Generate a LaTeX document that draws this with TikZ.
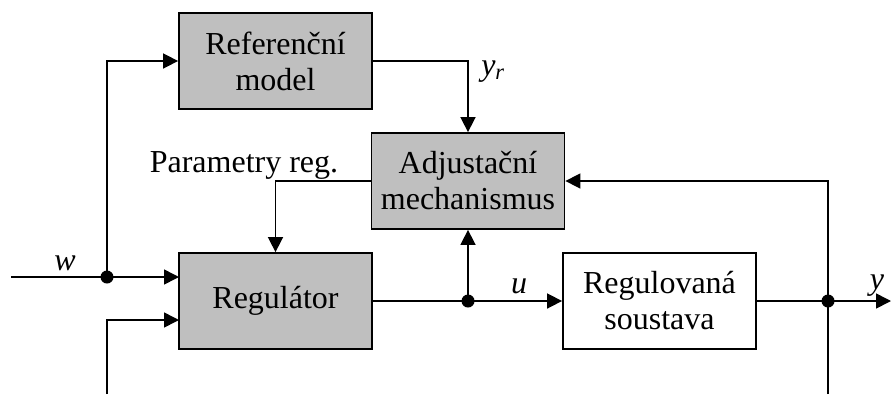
\documentclass[tikz,border=0pt]{standalone}
\usepackage{fontspec}
\setmainfont{Liberation Serif}
\usetikzlibrary{arrows.meta}
\begin{document}
\begin{tikzpicture}[x=1pt,y=-1pt,
  line width=1.6pt,
  blk/.style={draw,line width=1.8pt,minimum width=193pt,minimum height=96pt,inner sep=0pt,align=center,font=\fontsize{32}{36}\selectfont},
  gblk/.style={blk,fill=gray!50},
  lbl/.style={font=\fontsize{32}{36}\selectfont,inner sep=0pt},
  arr/.style={-{Triangle[length=15pt,width=15pt]}},
  dot/.style={circle,fill,inner sep=0pt,minimum size=13pt}]
\useasboundingbox (0,0) rectangle (891,394);
\node[gblk] (ref) at (275.5,61) {Referenční\\model};
\node[gblk] (adj) at (468,181) {Adjustační\\mechanismus};
\node[gblk] (reg) at (275.5,301) {Regulátor};
\node[blk,fill=white] (sys) at (659.5,301) {Regulovaná\\soustava};
\coordinate (win) at (11,277);
\coordinate (j1) at (107,277);
\coordinate (regin1) at (179,277);
\coordinate (bin) at (107,394);
\coordinate (regin2) at (179,320);
\coordinate (j2) at (468,301);
\coordinate (j3) at (828,301);
\coordinate (yout) at (891,301);
\coordinate (fbin) at (828,394);
\draw[arr] (win) -- (regin1);
\draw[arr] (j1) |- (ref.west);
\draw[arr] (ref.east) -| (adj.north);
\draw[arr] (adj.west) -| (reg.north);
\draw[arr] (bin) |- (regin2);
\draw[arr] (reg.east) -- (sys.west);
\draw[arr] (j2) -- (adj.south);
\draw[arr] (sys.east) -- (yout);
\draw[arr] (fbin) |- (adj.east);
\node[dot] at (j1) {};
\node[dot] at (j2) {};
\node[dot] at (j3) {};
\node[lbl] (lw) at (65,263) {\textit{w}};
\node[lbl] (lp) at (244,165) {Parametry reg.};
\node[lbl] (lyr) at (493,72) {\textit{y}\textsubscript{\textit{r}}};
\node[lbl] (lu) at (519,286) {\textit{u}};
\node[lbl] (ly) at (877,286) {\textit{y}};
\end{tikzpicture}
\end{document}
